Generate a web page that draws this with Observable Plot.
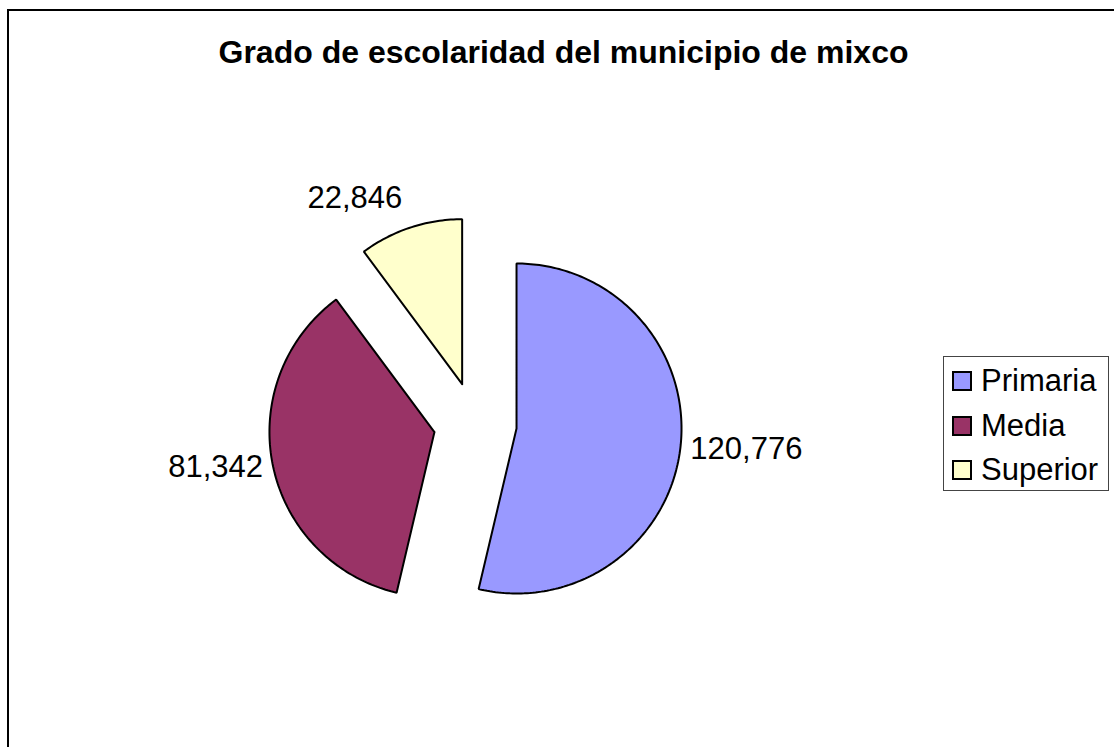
<!DOCTYPE html>
<html>
<head>
<meta charset="utf-8">
<script src="https://cdn.jsdelivr.net/npm/d3@7"></script>
<script src="https://cdn.jsdelivr.net/npm/@observablehq/plot@0.6"></script>
<style>
  html, body { margin: 0; padding: 0; background: #fff; }
  #wrap { position: relative; width: 1114px; height: 747px; overflow: hidden; font-family: "Liberation Sans", Arial, sans-serif; }
  #frame { position: absolute; left: 7px; top: 9px; width: 1200px; height: 800px; border-top: 2px solid #000; border-left: 2px solid #000; }
  #title { position: absolute; left: 0; width: 1127px; top: 33px; text-align: center; font-weight: bold; font-size: 32px; line-height: 38px; color: #000; }
  #chart { position: absolute; left: 0; top: 0; }
  #legend { position: absolute; left: 943px; top: 356px; width: 164px; height: 133px; border: 1px solid #444; background: #fff; }
  .row { position: absolute; left: 8px; height: 30px; display: flex; align-items: center; font-size: 31px; color: #000; }
  .sw { width: 16px; height: 16px; border: 2px solid #000; margin-right: 9px; }
</style>
</head>
<body>
<div id="wrap">
  <div id="frame"></div>
  <div id="chart"></div>
  <div id="title">Grado de escolaridad del municipio de mixco</div>
  <div id="legend"></div>
</div>
<script>
const categories = ["Primaria", "Media", "Superior"];
const values = [120776, 81342, 22846];
const valueLabels = ["120,776", "81,342", "22,846"];
const colors = ["#9999FF", "#993366", "#FFFFCC"];

// layout
const W = 1114, H = 747;
const cx = 474.7, cy = 423.2, R = 165;
const explode = 41.6 / R;
const labelDist = 175 / R;

const arcs = d3.pie().sort(null).startAngle(0).endAngle(2 * Math.PI)(values);

const slices = arcs.map((a, i) => {
  const mid = (a.startAngle + a.endAngle) / 2;
  const ox = explode * Math.sin(mid), oy = explode * Math.cos(mid);
  const pts = [{x: ox, y: oy}];
  const n = Math.max(2, Math.ceil((a.endAngle - a.startAngle) / (Math.PI / 180)));
  for (let k = 0; k <= n; k++) {
    const t = a.startAngle + (a.endAngle - a.startAngle) * k / n;
    pts.push({x: ox + Math.sin(t), y: oy + Math.cos(t)});
  }
  pts.push({x: ox, y: oy});
  const sx = Math.sin(mid), sy = Math.cos(mid);
  return {
    name: categories[i], color: colors[i], pts,
    label: valueLabels[i],
    lx: ox + labelDist * sx, ly: oy + labelDist * sy,
    anchor: sx >= 0 ? "start" : "end",
    top: sy > 0.7
  };
});

const font = "Liberation Sans, Arial, sans-serif";
const marks = slices.map(s => Plot.line(s.pts, {
  x: "x", y: "y", fill: s.color, stroke: "#000", strokeWidth: 2,
  strokeLinejoin: "miter", curve: "linear"
}));
marks.push(Plot.text(slices.filter(s => s.anchor === "start" && !s.top), {
  x: "lx", y: "ly", text: "label", textAnchor: "start", fontSize: 31, fill: "#000"
}));
marks.push(Plot.text(slices.filter(s => s.anchor === "end" && !s.top), {
  x: "lx", y: "ly", text: "label", textAnchor: "end", fontSize: 31, fill: "#000"
}));
marks.push(Plot.text(slices.filter(s => s.top), {
  x: "lx", y: "ly", text: "label", textAnchor: "end", lineAnchor: "bottom", dx: -5, dy: -10, fontSize: 31, fill: "#000"
}));

const plot = Plot.plot({
  width: W, height: H, margin: 0,
  x: {domain: [-cx / R, (W - cx) / R], range: [0, W], axis: null},
  y: {domain: [-(H - cy) / R, cy / R], range: [H, 0], axis: null},
  style: {fontFamily: font, background: "transparent", overflow: "visible"},
  marks
});
document.getElementById("chart").appendChild(plot);

const legend = document.getElementById("legend");
categories.forEach((c, i) => {
  const row = document.createElement("div");
  row.className = "row";
  row.style.top = (9 + i * 44.5) + "px";
  const sw = document.createElement("div");
  sw.className = "sw";
  sw.style.background = colors[i];
  const tx = document.createElement("span");
  tx.textContent = c;
  row.appendChild(sw); row.appendChild(tx);
  legend.appendChild(row);
});
</script>
</body>
</html>
